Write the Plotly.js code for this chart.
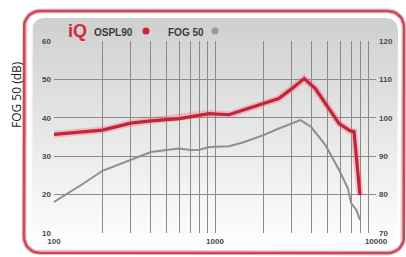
<!DOCTYPE html>
<html>
<head>
<meta charset="utf-8">
<script src="https://cdn.plot.ly/plotly-3.0.1.min.js"></script>
<style>
html,body{margin:0;padding:0;background:#fff;}
#chart{width:406px;height:257px;}
</style>
</head>
<body>
<div id="chart"></div>
<script>
// ---- data ----
const freqOspl = [100, 200, 300, 400, 600, 760, 920, 1220, 1470, 2000, 2490, 3000, 3580, 4200, 5000, 5900, 6900, 7300, 7950];
const ospl90   = [95.7, 96.8, 98.6, 99.2, 99.8, 100.6, 101.1, 100.8, 101.9, 103.7, 105.0, 107.6, 110.2, 107.6, 102.9, 98.5, 96.6, 96.4, 79.9];

const freqFog = [100, 150, 200, 300, 400, 500, 600, 700, 800, 920, 1220, 1470, 2000, 2490, 3000, 3400, 3960, 4850, 5900, 6700, 7000, 7550, 7950];
const fog50   = [18.1, 22.7, 26.2, 29.0, 31.1, 31.6, 32.0, 31.6, 31.7, 32.4, 32.6, 33.5, 35.5, 37.2, 38.5, 39.4, 37.6, 32.9, 26.4, 21.6, 17.8, 16.0, 13.4];

const xTickVals  = [100, 1000, 10000];
const xTickText  = ['100', '1000', '10000'];
const xGridVals  = [200, 300, 400, 500, 600, 700, 800, 900, 1000, 2000, 3000, 4000, 5000, 6000, 7000, 8000, 9000];
const yLeftTicks = [10, 20, 30, 40, 50, 60];
const yRightTicks = [70, 80, 90, 100, 110, 120];
const yGridVals  = [80, 90, 100, 110];

const legendLabels = ['OSPL90', 'FOG 50'];
const yTitle = 'FOG 50 (dB)';

// ---- decorative frame helper (pixel space) ----
function roundRect(x0, y0, x1, y1, r) {
  const xs = [], ys = [];
  const corners = [[x1 - r, y0 + r, -90, 0], [x1 - r, y1 - r, 0, 90], [x0 + r, y1 - r, 90, 180], [x0 + r, y0 + r, 180, 270]];
  corners.forEach(c => {
    for (let a = c[2]; a <= c[3]; a += 10) {
      const t = a * Math.PI / 180;
      xs.push(c[0] + r * Math.cos(t));
      ys.push(c[1] + r * Math.sin(t));
    }
  });
  xs.push(xs[0]); ys.push(ys[0]);
  return {xs, ys};
}

const W = 406, H = 257;
const inner = roundRect(32, 18, 398, 249, 12);
const outer = roundRect(24, 11, 404, 253, 16);

const traces = [
  { // inner gradient panel
    x: inner.xs, y: inner.ys, xaxis: 'x', yaxis: 'y', type: 'scatter', mode: 'lines',
    line: {width: 0, color: 'rgba(0,0,0,0)'}, fill: 'toself',
    fillgradient: {type: 'vertical', start: 18, stop: 249,
      colorscale: [[0, '#cfcfcf'], [0.45, '#e5e5e5'], [1, '#ffffff']]},
    hoverinfo: 'skip', showlegend: false
  },
  { // red frame glow
    x: outer.xs, y: outer.ys, xaxis: 'x', yaxis: 'y', type: 'scatter', mode: 'lines',
    line: {width: 5, color: 'rgba(214,120,135,0.45)'}, hoverinfo: 'skip', showlegend: false
  },
  { // red frame
    x: outer.xs, y: outer.ys, xaxis: 'x', yaxis: 'y', type: 'scatter', mode: 'lines',
    line: {width: 2.5, color: '#c44a5c'}, hoverinfo: 'skip', showlegend: false
  },
  { // FOG 50 (left axis)
    x: freqFog, y: fog50, xaxis: 'x2', yaxis: 'y2', type: 'scatter', mode: 'lines',
    line: {width: 2, color: '#8e8e8e'}, name: legendLabels[1], showlegend: false
  },
  { // OSPL90 glow (right axis)
    x: freqOspl, y: ospl90, xaxis: 'x2', yaxis: 'y3', type: 'scatter', mode: 'lines',
    line: {width: 7, color: 'rgba(232,110,130,0.35)'}, hoverinfo: 'skip', showlegend: false
  },
  { // OSPL90 (right axis)
    x: freqOspl, y: ospl90, xaxis: 'x3', yaxis: 'y4', type: 'scatter', mode: 'lines',
    line: {width: 3.2, color: '#c5233a'}, name: legendLabels[0], showlegend: false
  }
];

const tickFont = {family: 'Liberation Sans, Arial, sans-serif', size: 8, color: '#484848', weight: 700};
const domX = [54 / W, 376 / W];
const domY = [24 / H, 216 / H];

const layout = {
  width: W, height: H,
  margin: {l: 0, r: 0, t: 0, b: 0, pad: 0},
  paper_bgcolor: '#ffffff', plot_bgcolor: 'rgba(0,0,0,0)',
  font: {family: 'Liberation Sans, Arial, sans-serif'},
  showlegend: false,
  xaxis: {domain: [0, 1], range: [0, W], visible: false, fixedrange: true, anchor: 'y'},
  yaxis: {domain: [0, 1], range: [H, 0], visible: false, fixedrange: true, anchor: 'x'},
  xaxis2: {
    type: 'log', range: [2, 4], domain: domX, anchor: 'y2',
    tickmode: 'array', tickvals: xTickVals, ticktext: xTickText,
    showgrid: false, zeroline: false, showline: false, ticks: '',
    tickfont: tickFont, ticklabelstandoff: 2
  },
  xaxis3: {
    type: 'log', range: [2, 4], overlaying: 'x2', anchor: 'y4',
    tickmode: 'array', tickvals: xGridVals, showticklabels: false,
    showgrid: true, gridcolor: '#8a8a8a', gridwidth: 1, zeroline: false, showline: false, ticks: ''
  },
  yaxis2: {
    range: [10, 60], domain: domY, anchor: 'x2',
    tickmode: 'array', tickvals: yLeftTicks,
    showgrid: false, zeroline: false, showline: false, ticks: '',
    tickfont: tickFont, ticklabelstandoff: 2
  },
  yaxis3: {
    range: [70, 120], overlaying: 'y2', side: 'right', anchor: 'x2',
    tickmode: 'array', tickvals: yRightTicks,
    showgrid: false, zeroline: false, showline: false, ticks: '',
    tickfont: tickFont, ticklabelstandoff: 2
  },
  yaxis4: {
    range: [70, 120], overlaying: 'y2', side: 'right', anchor: 'x3',
    tickmode: 'array', tickvals: yGridVals, showticklabels: false,
    showgrid: true, gridcolor: '#8a8a8a', gridwidth: 1, zeroline: false, showline: false, ticks: ''
  },
  shapes: [
    {type: 'circle', xref: 'paper', yref: 'paper', x0: 142.5 / W, x1: 149.5 / W, y0: 1 - 34.5 / H, y1: 1 - 27.5 / H,
     fillcolor: '#d0203a', line: {width: 0}},
    {type: 'circle', xref: 'paper', yref: 'paper', x0: 211.5 / W, x1: 218.5 / W, y0: 1 - 34.5 / H, y1: 1 - 27.5 / H,
     fillcolor: '#9a9a9a', line: {width: 0}}
  ],
  annotations: [
    {text: 'iQ', xref: 'paper', yref: 'paper', x: 66 / W, y: 1 - 31 / H, xanchor: 'left', yanchor: 'middle',
     showarrow: false, font: {family: 'Liberation Sans, Arial, sans-serif', size: 18, color: '#d42a3c', weight: 900}},
    {text: legendLabels[0], xref: 'paper', yref: 'paper', x: 92 / W, y: 1 - 32 / H, xanchor: 'left', yanchor: 'middle',
     showarrow: false, font: {family: 'Liberation Sans, Arial, sans-serif', size: 10, color: '#3a3a3a', weight: 700}},
    {text: legendLabels[1], xref: 'paper', yref: 'paper', x: 166 / W, y: 1 - 32 / H, xanchor: 'left', yanchor: 'middle',
     showarrow: false, font: {family: 'Liberation Sans, Arial, sans-serif', size: 10, color: '#3a3a3a', weight: 700}},
    {text: yTitle, xref: 'paper', yref: 'paper', x: 16 / W, y: 1 - 95 / H, xanchor: 'center', yanchor: 'middle',
     textangle: -90, showarrow: false, font: {family: 'Open Sans, sans-serif', size: 12, color: '#222'}}
  ]
};

Plotly.newPlot('chart', traces, layout, {staticPlot: true, displayModeBar: false});
</script>
</body>
</html>
